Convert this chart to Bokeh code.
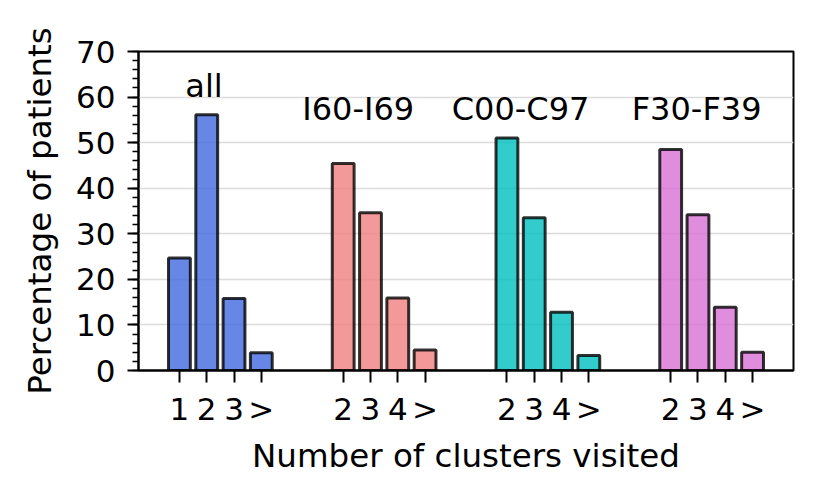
from bokeh.plotting import figure
from bokeh.models import ColumnDataSource, FixedTicker, SingleIntervalTicker, Range1d
from bokeh.embed import file_html
from bokeh.resources import INLINE
from bokeh.core.properties import value

# ---- data ----
groups = ["all", "I60-I69", "C00-C97", "F30-F39"]
group_ticklabels = [["1", "2", "3", ">"], ["2", "3", "4", ">"], ["2", "3", "4", ">"], ["2", "3", "4", ">"]]
all_vals = [24.7, 56.1, 15.8, 3.9]
i60_vals = [45.4, 34.6, 15.9, 4.5]
c00_vals = [51.0, 33.5, 12.8, 3.3]
f30_vals = [48.5, 34.2, 13.9, 4.0]
series = [all_vals, i60_vals, c00_vals, f30_vals]
colors = ["#4169E1", "#F08080", "#00BFBF", "#DA70D6"]
label_x = [0.9, 6.55, 12.5, 18.95]
label_y = [60, 55, 55, 55]

FONT = "DejaVu Sans"

p = figure(width=816, height=483, output_backend="svg", toolbar_location=None,
           x_range=Range1d(-1.5, 22.5), y_range=Range1d(0, 70),
           min_border_left=138, min_border_right=23, min_border_top=51, min_border_bottom=113)

tick_pos = []
overrides = {}
for gi, (vals, col) in enumerate(zip(series, colors)):
    xs = [gi * 6 + k for k in range(len(vals))]
    src = ColumnDataSource(dict(x=xs, top=vals))
    p.vbar(x="x", top="top", bottom=0, width=0.8, source=src,
           fill_color=col, fill_alpha=0.8, line_color="black", line_alpha=0.8, line_width=3)
    for xv, lab in zip(xs, group_ticklabels[gi]):
        tick_pos.append(xv)
        overrides[xv] = lab

p.text(x=label_x, y=label_y, text=groups, text_align="center", text_baseline="alphabetic",
       y_offset=-11,
       text_font=value(FONT), text_font_size="32px", text_color="black")

# axes
p.xaxis.ticker = FixedTicker(ticks=tick_pos)
p.xaxis.major_label_overrides = overrides
p.yaxis.ticker = SingleIntervalTicker(interval=10, num_minor_ticks=5)

for ax in (p.xaxis, p.yaxis):
    ax.axis_line_width = 2
    ax.axis_line_color = "black"
    ax.major_tick_line_width = 2
    ax.minor_tick_line_width = 1.5
    ax.major_tick_in = 0
    ax.minor_tick_in = 0
    ax.major_label_text_font = FONT
    ax.major_label_text_font_size = "31px"
    ax.major_label_text_color = "black"
    ax.axis_label_text_font = FONT
    ax.axis_label_text_font_size = "32.5px"
    ax.axis_label_text_font_style = "normal"
    ax.axis_label_text_color = "black"

p.xaxis.major_tick_out = 12
p.xaxis.minor_tick_out = 0
p.xaxis.major_label_standoff = 8
p.xaxis.axis_label = "Number of clusters visited"
p.xaxis.axis_label_standoff = 7

p.yaxis.major_tick_out = 11
p.yaxis.minor_tick_out = 6
p.yaxis.major_label_standoff = 12
p.yaxis.axis_label = "Percentage of patients"
p.yaxis.axis_label_standoff = 14

p.xgrid.grid_line_color = None
p.ygrid.grid_line_color = "#dcdcdc"
p.ygrid.grid_line_width = 1.5

p.outline_line_color = "black"
p.outline_line_width = 2
p.outline_line_alpha = 1

open("out.html", "w").write(file_html(p, INLINE))
